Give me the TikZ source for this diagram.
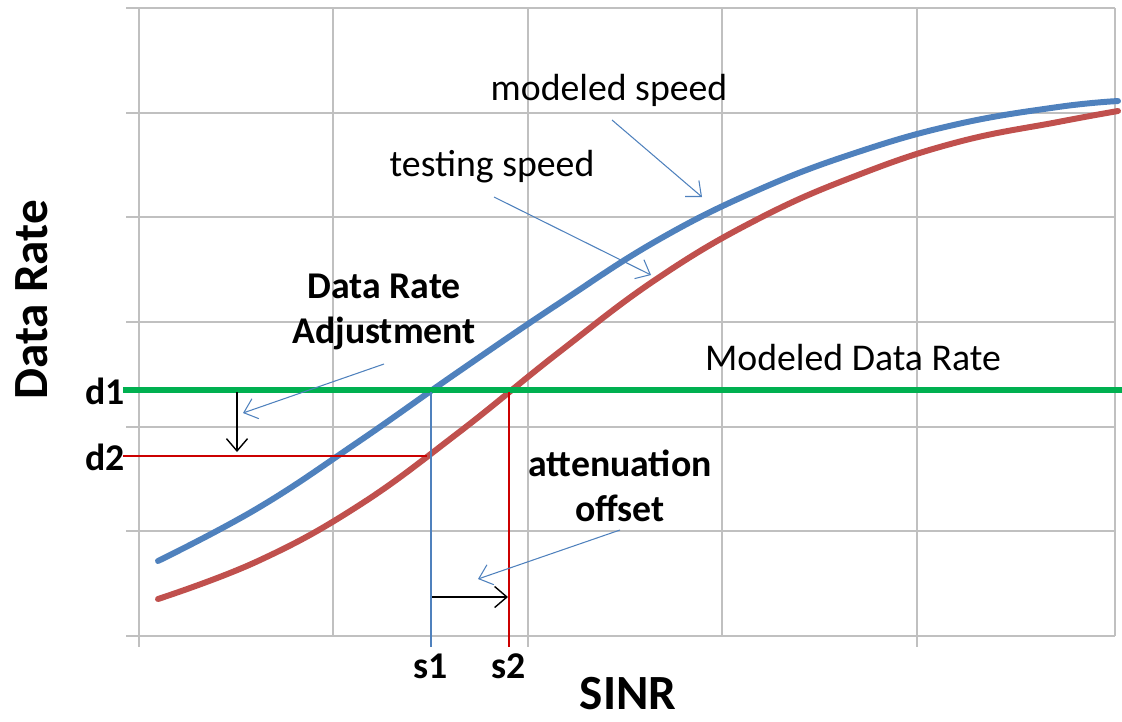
\documentclass[tikz,border=0pt]{standalone}
\usepackage{fontspec}
\setmainfont{Carlito}
\usetikzlibrary{arrows.meta}
\definecolor{modblue}{HTML}{4F81BD}
\definecolor{testred}{HTML}{C0504D}
\definecolor{rategreen}{HTML}{00B050}
\definecolor{gridgray}{RGB}{192,192,192}
\definecolor{markred}{RGB}{204,0,0}
\begin{document}
\begin{tikzpicture}[x=0.02cm,y=-0.02cm,
  gridline/.style={gridgray,line width=1.1pt},
  speedcurve/.style={line width=3.4pt,line cap=round},
  pointer/.style={modblue,line width=0.6pt,-{Straight Barb[length=7pt,width=12pt]}},
  offarrow/.style={black,line width=0.8pt,-{Straight Barb[length=7pt,width=12pt]}},
  lbl/.style={inner sep=0pt,font=\fontsize{21.5}{25}\selectfont},
  blbl/.style={inner sep=0pt,align=center,font=\fontsize{21.5}{26}\selectfont\bfseries},
  axislbl/.style={inner sep=0pt,font=\fontsize{28}{30}\selectfont\bfseries}]
\useasboundingbox (0,0) rectangle (1122,721);
%Raster
\foreach \gx in {139,333,528,722,917,1115}
  \draw[gridline] (\gx,8) -- (\gx,636);
\foreach \gx in {139,528,917}
  \draw[gridline] (\gx,636) -- (\gx,647);
\foreach \gy in {8,113,217,322,427,531,636}
  \draw[gridline] (126,\gy) -- (1115,\gy);
%Kurven
\draw[speedcurve,testred] plot[smooth,tension=0.7] coordinates {(158,599) (258,561) (358,506) (458,433) (558,353) (658,278) (758,219) (858,175) (958,142) (1058,122) (1118,111)};
\draw[speedcurve,modblue] plot[smooth,tension=0.7] coordinates {(158,561) (258,508) (358,442) (458,372) (558,304) (658,240) (758,190) (858,152) (958,124) (1058,107) (1118,101)};
%Datenrate
\coordinate (d1l) at (123,390);
\coordinate (d1r) at (1122,390);
\draw[rategreen,line width=3pt] (d1l) -- (d1r);
\coordinate (d2l) at (123,456);
\coordinate (d2r) at (427,456);
\draw[markred,line width=1.1pt] (d2l) -- (d2r);
\coordinate (s1t) at (431,392);
\coordinate (s1b) at (431,647);
\draw[modblue,line width=1.1pt] (s1t) -- (s1b);
\coordinate (s2t) at (509,392);
\coordinate (s2b) at (509,647);
\draw[markred,line width=1.1pt] (s2t) -- (s2b);
%Verschiebungen
\coordinate (adj0) at (237,392);
\coordinate (adj1) at (237,452);
\draw[offarrow] (adj0) -- (adj1);
\coordinate (off0) at (432,597);
\coordinate (off1) at (508,597);
\draw[offarrow] (off0) -- (off1);
%Beschriftungen
\node[lbl] (modlbl) at (609,90) {modeled speed};
\node[lbl] (testlbl) at (492,167) {testing speed};
\node[lbl] (ratelbl) at (853,358) {Modeled Data Rate};
\node[blbl] (adjlbl) at (384,312) {Data Rate\\Adjustment};
\node[blbl] (attlbl) at (620,486) {attenuation\\offset};
\node[blbl] (d1lbl) at (105,391) {d1};
\node[blbl] (d2lbl) at (105,457) {d2};
\node[blbl] (s1lbl) at (431,666) {s1};
\node[blbl] (s2lbl) at (509,666) {s2};
\node[axislbl] (xlbl) at (628,694) {SINR};
\node[axislbl,rotate=90] (ylbl) at (32,300) {Data Rate};
%Zeiger
\coordinate (mp0) at (612,120);
\coordinate (mp1) at (702,197);
\draw[pointer] (mp0) -- (mp1);
\coordinate (tp0) at (494,197);
\coordinate (tp1) at (651,275);
\draw[pointer] (tp0) -- (tp1);
\coordinate (ap0) at (384,364);
\coordinate (ap1) at (243,413);
\draw[pointer] (ap0) -- (ap1);
\coordinate (op0) at (620,530);
\coordinate (op1) at (478,579);
\draw[pointer] (op0) -- (op1);
\end{tikzpicture}
\end{document}
